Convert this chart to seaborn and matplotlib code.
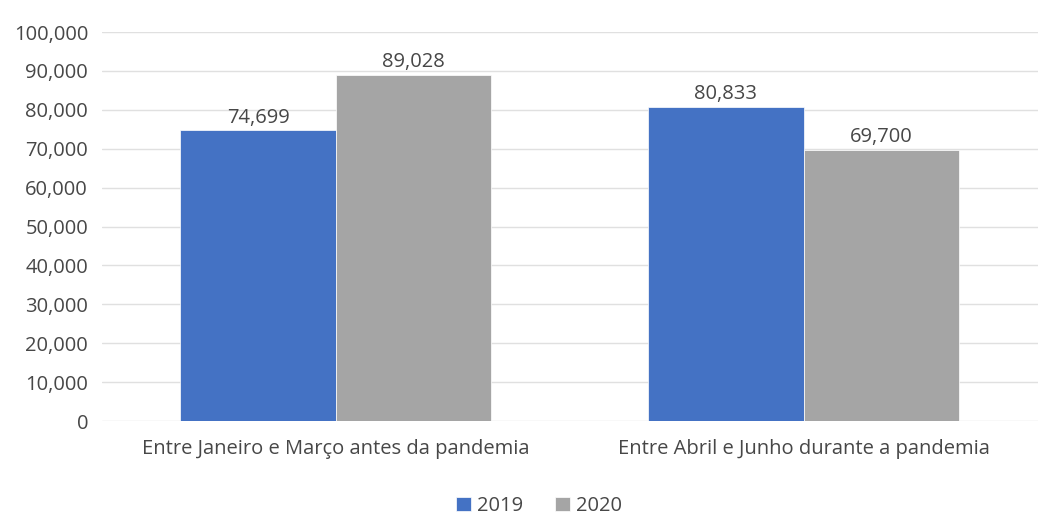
import matplotlib
matplotlib.use("Agg")
import matplotlib.pyplot as plt
import seaborn as sns
import pandas as pd
from matplotlib.ticker import FuncFormatter, MultipleLocator

categories = ["Entre Janeiro e Março antes da pandemia", "Entre Abril e Junho durante a pandemia"]
series_names = ["2019", "2020"]
values_2019 = [74699, 80833]
values_2020 = [89028, 69700]

colors = ["#4472C4", "#A5A5A5"]
text_color = "#474747"

rows = []
for c, v in zip(categories, values_2019):
    rows.append({"cat": c, "ano": series_names[0], "val": v})
for c, v in zip(categories, values_2020):
    rows.append({"cat": c, "ano": series_names[1], "val": v})
df = pd.DataFrame(rows)

sns.set_style("white")
plt.rcParams["font.family"] = ["Open Sans", "DejaVu Sans"]

fig = plt.figure(figsize=(10.47, 5.25), dpi=100)
ax = fig.add_axes([0.0974, 0.198, 0.8936, 0.741])

sns.barplot(data=df, x="cat", y="val", hue="ano", palette=colors, width=0.665,
            saturation=1, ax=ax, legend=True, zorder=3, linewidth=0.5, edgecolor="white")

ax.set_ylim(0, 100000)
ax.yaxis.set_major_locator(MultipleLocator(10000))
ax.yaxis.set_major_formatter(FuncFormatter(lambda v, p: f"{int(v):,}"))
ax.grid(axis="y", color="#E0E0E0", linewidth=1.0, zorder=0)
ax.set_axisbelow(True)
for s in ax.spines.values():
    s.set_visible(False)
ax.set_xlabel("")
ax.set_ylabel("")
ax.tick_params(axis="both", length=0, colors=text_color, labelsize=14.5)
ax.tick_params(axis="x", pad=13)
ax.tick_params(axis="y", pad=10)

for cont in ax.containers:
    ax.bar_label(cont, labels=[f"{int(v):,}" for v in cont.datavalues],
                 padding=2, fontsize=14.5, color=text_color)

handles, labels = ax.get_legend_handles_labels()
ax.legend(handles, labels, loc="center", bbox_to_anchor=(0.467, -(506 - 421) / 389.0),
          ncol=2, frameon=False, fontsize=14.5, labelcolor=text_color,
          handlelength=0.75, handleheight=0.75, handletextpad=0.3, columnspacing=1.6)

fig.savefig("out.png", dpi=100, facecolor="white")
